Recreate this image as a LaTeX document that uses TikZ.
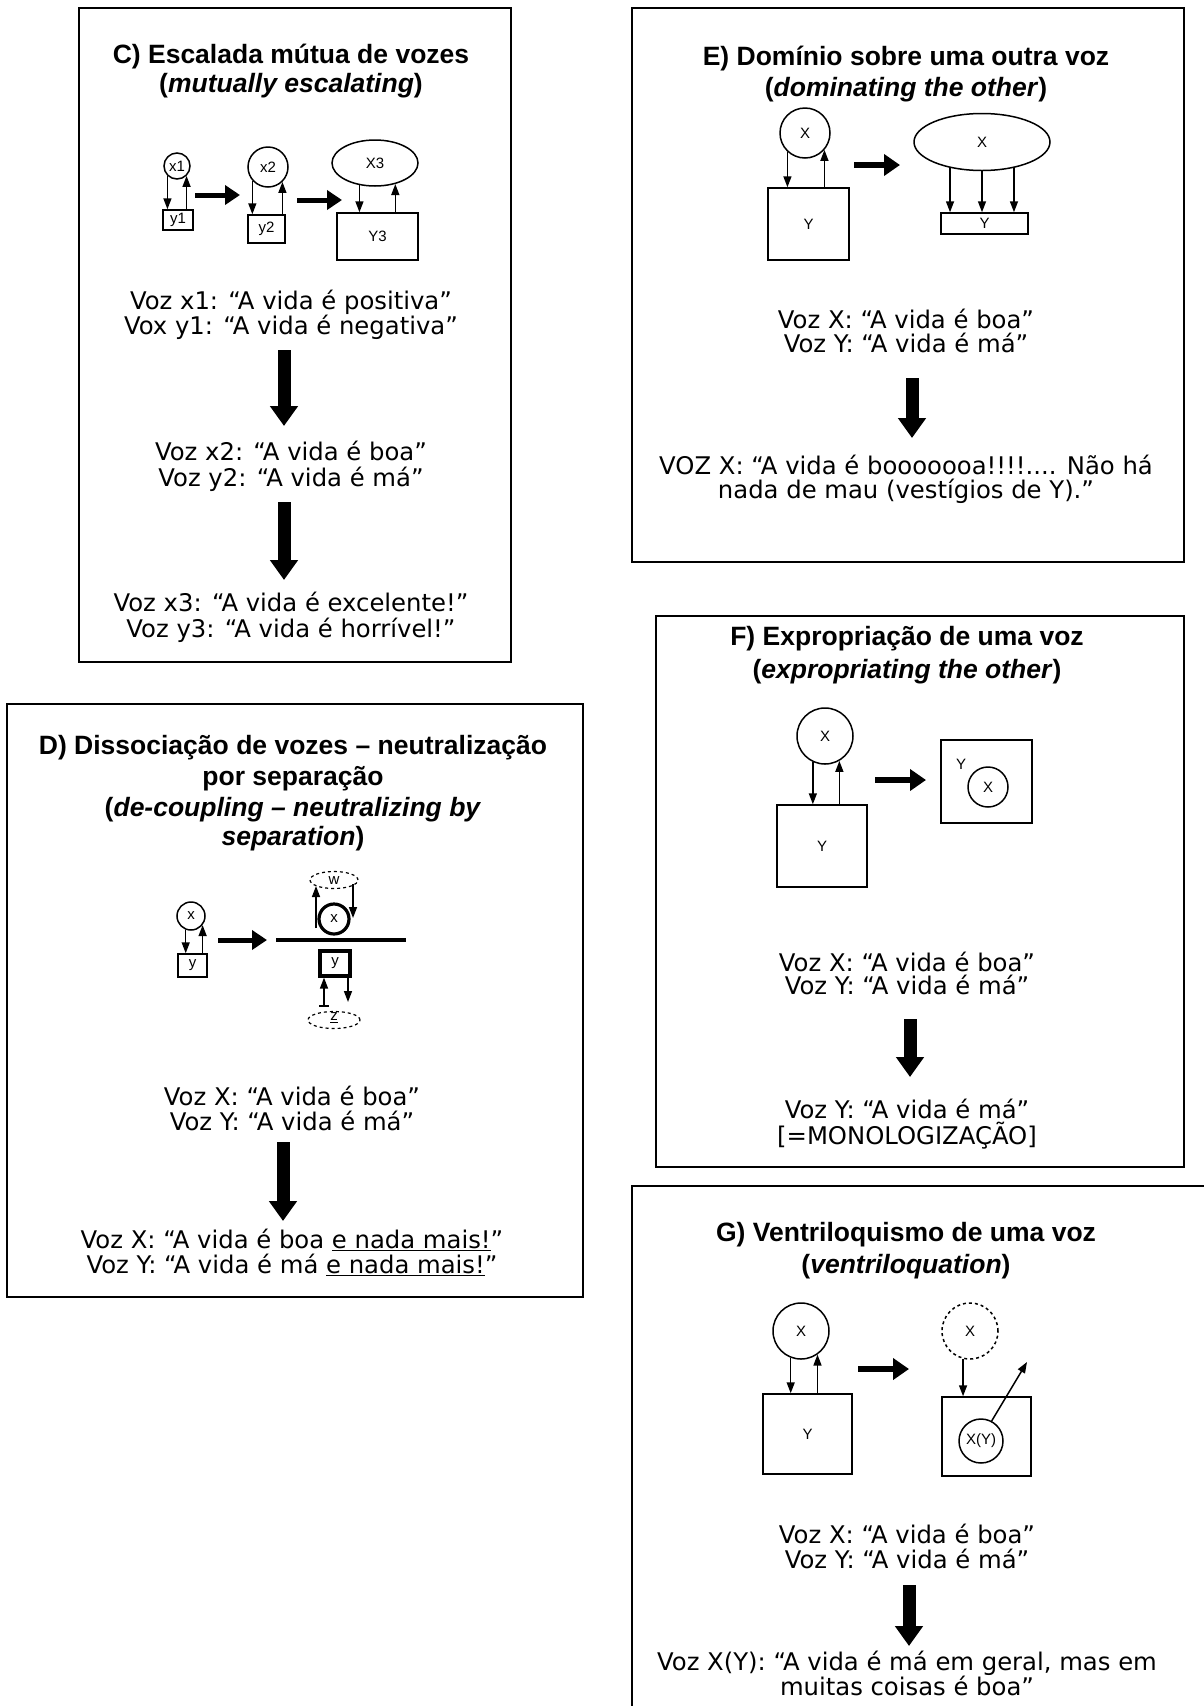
\documentclass[tikz,border=0pt]{standalone}
\usepackage{fontspec}
\setmainfont{DejaVu Sans}
\newfontfamily\titlefont{Liberation Sans}
\usetikzlibrary{arrows.meta,shapes.geometric,calc}
\begin{document}
\begin{tikzpicture}[x=1pt,y=-1pt,
  panel/.style={line width=2pt},
  ttl/.style={font=\titlefont\bfseries\fontsize{26.5}{29}\selectfont, anchor=base, inner sep=0pt},
  txt/.style={font=\fontsize{24.3}{25}\selectfont, anchor=base, inner sep=0pt},
  lab/.style={font=\titlefont\fontsize{15}{16}\selectfont, inner sep=0pt},
  circ/.style={circle, draw, line width=1.5pt, inner sep=0pt, minimum size=#1},
  ell/.style 2 args={ellipse, draw, line width=1.5pt, inner sep=0pt, minimum width=#1, minimum height=#2},
  box/.style 2 args={rectangle, draw, line width=1.5pt, inner sep=0pt, minimum width=#1, minimum height=#2},
  thinarr/.style={line width=1.5pt, -{Triangle[width=8pt,length=11pt]}},
  midarr/.style={line width=5.5pt, -{Triangle[width=21pt,length=16pt]}},
  smallmid/.style={line width=5pt, -{Triangle[width=19pt,length=15pt]}},
  bigarr/.style={line width=13pt, -{Triangle[width=27pt,length=20pt]}},
]
\useasboundingbox[fill=white] (0,0) rectangle (1204,1706);

% ================= Panel C =================
\draw[panel] (79,8) rectangle (511,662);
\node[ttl] (ct1) at (291,63) {C) Escalada mútua de vozes};
\node[ttl] (ct2) at (291,92) {(\textit{mutually escalating})};
\node[circ=26pt, lab] (cx1) at (177,166) {x1};
\node[box={30pt}{20pt}, lab] (cy1) at (178,220) {y1};
\draw[thinarr] (cx1.226) -- (cx1.226 |- cy1.north);
\draw[thinarr] (cx1.314 |- cy1.north) -- (cx1.314);
\coordinate (ca1s) at (195,195); \coordinate (ca1e) at (240,195);
\draw[smallmid] (ca1s) -- (ca1e);
\node[circ=40pt, lab] (cx2) at (268,167) {x2};
\node[box={37pt}{28pt}, lab] (cy2) at (266.5,229) {y2};
\draw[thinarr] (cx2.221) -- (cx2.221 |- cy2.north);
\draw[thinarr] (cx2.314 |- cy2.north) -- (cx2.314);
\coordinate (ca2s) at (297,200); \coordinate (ca2e) at (342,200);
\draw[smallmid] (ca2s) -- (ca2e);
\node[ell={86pt}{46pt}, lab] (cx3) at (375,163) {X3};
\node[box={81pt}{47pt}, lab] (cy3) at (377.5,236.5) {Y3};
\draw[thinarr] (cx3.235) -- (cx3.235 |- cy3.north);
\draw[thinarr] (cx3.314 |- cy3.north) -- (cx3.314);

\node[txt] (cv1) at (291,309) {Voz x1: “A vida é positiva”};
\node[txt] (cv2) at (291,334) {Vox y1: “A vida é negativa”};
\coordinate (cb1s) at (284,350); \coordinate (cb1e) at (284,426);
\draw[bigarr] (cb1s) -- (cb1e);
\node[txt] (cv3) at (291,460) {Voz x2: “A vida é boa”};
\node[txt] (cv4) at (291,486) {Voz y2: “A vida é má”};
\coordinate (cb2s) at (284,502); \coordinate (cb2e) at (284,580);
\draw[bigarr] (cb2s) -- (cb2e);
\node[txt] (cv5) at (291,611) {Voz x3: “A vida é excelente!”};
\node[txt] (cv6) at (291,637) {Voz y3: “A vida é horrível!”};

% ================= Panel E =================
\draw[panel] (632,8) rectangle (1184,562);
\node[ttl] (et1) at (906,65) {E) Domínio sobre uma outra voz};
\node[ttl] (et2) at (906,96) {(\textit{dominating the other})};
\node[circ=50pt, lab] (ex) at (805,133) {X};
\node[box={81pt}{72pt}, lab] (ey) at (808.5,224) {Y};
\draw[thinarr] (ex.227) -- (ex.227 |- ey.north);
\draw[thinarr] (ex.319 |- ey.north) -- (ex.319);
\coordinate (ea1s) at (854,165); \coordinate (ea1e) at (900,165);
\draw[midarr] (ea1s) -- (ea1e);
\node[ell={136pt}{57pt}, lab] (exx) at (982,142) {X};
\node[box={87pt}{21pt}, lab] (eyy) at (984.5,223.5) {Y};
\draw[thinarr] (exx.219) -- (exx.219 |- eyy.north);
\draw[thinarr] (exx.270) -- (exx.270 |- eyy.north);
\draw[thinarr] (exx.321) -- (exx.321 |- eyy.north);

\node[txt] (ev1) at (906,328) {Voz X: “A vida é boa”};
\node[txt] (ev2) at (906,352) {Voz Y: “A vida é má”};
\coordinate (eb1s) at (912,378); \coordinate (eb1e) at (912,438);
\draw[bigarr] (eb1s) -- (eb1e);
\node[txt] (ev3) at (906,474) {VOZ X: “A vida é booooooa!!!!.... Não há};
\node[txt] (ev4) at (906,498) {nada de mau (vestígios de Y).”};

% ================= Panel D =================
\draw[panel] (7,704) rectangle (583,1297);
\node[ttl] (dt1) at (293,754) {D) Dissociação de vozes – neutralização};
\node[ttl] (dt2) at (293,785) {por separação};
\node[ttl] (dt3) at (293,816) {(\textit{de-coupling – neutralizing by}};
\node[ttl] (dt4) at (293,845) {\textit{separation})};
\node[circ=28pt, lab] (dx) at (191,916) {x};
\node[box={29pt}{23pt}, lab] (dy) at (192.5,965.5) {y};
\draw[thinarr] (dx.249) -- (dx.249 |- dy.north);
\draw[thinarr] (dx.322 |- dy.north) -- (dx.322);
\coordinate (da1s) at (218,940); \coordinate (da1e) at (267,940);
\draw[smallmid] (da1s) -- (da1e);
\coordinate (dls) at (276,940); \coordinate (dle) at (406,940);
\draw[line width=4.5pt] (dls) -- (dle);
\node[circ=30pt, lab, line width=3.2pt] (dx2) at (334,919) {x};
\node[box={30pt}{25pt}, lab, line width=3.2pt] (dy2) at (335,963.5) {y};
\node[ell={48pt}{17pt}, dashed, line width=1.2pt] (dw) at (334,880) {};
\node[lab] (dwl) at (334,881) {w};
\coordinate (dwa) at (316,928); \coordinate (dwb) at (316,886);
\draw[thinarr] (dwa) -- (dwb);
\coordinate (dwc) at (353,884); \coordinate (dwd) at (353,918);
\draw[thinarr] (dwc) -- (dwd);
\node[ell={52pt}{17pt}, dashed, line width=1.2pt] (dz) at (334,1020) {};
\node[lab] (dzl) at (334,1018) {\underline{z}};
\coordinate (dza) at (324,1006); \coordinate (dzb) at (348,1002);
\draw[thinarr] (dza) -- (dza |- dy2.south);
\draw[thinarr] (dzb |- dy2.south) -- (dzb);
\draw[line width=1.3pt] ([xshift=-5pt]dza) -- ([xshift=5pt]dza);

\node[txt] (dv1) at (292,1105) {Voz X: “A vida é boa”};
\node[txt] (dv2) at (292,1130) {Voz Y: “A vida é má”};
\coordinate (db1s) at (283,1142); \coordinate (db1e) at (283,1221);
\draw[bigarr] (db1s) -- (db1e);
\node[txt] (dv3) at (292,1248) {Voz X: “A vida é boa \underline{e nada mais!}”};
\node[txt] (dv4) at (292,1273) {Voz Y: “A vida é má \underline{e nada mais!}”};

% ================= Panel F =================
\draw[panel] (656,616) rectangle (1184,1167);
\node[ttl] (ft1) at (907,645) {F) Expropriação de uma voz};
\node[ttl] (ft2) at (907,678) {(\textit{expropriating the other})};
\node[circ=56pt, lab] (fx) at (825,736) {X};
\node[box={90pt}{82pt}, lab] (fy) at (822,846) {Y};
\draw[thinarr] (fx.245) -- (fx.245 |- fy.north);
\draw[thinarr] (fx.300 |- fy.north) -- (fx.300);
\coordinate (fa1s) at (875,780); \coordinate (fa1e) at (926,780);
\draw[midarr] (fa1s) -- (fa1e);
\node[box={91pt}{83pt}] (fyy) at (986.5,781.5) {};
\node[circ=40pt, lab] (fxx) at (988,787) {X};
\node[lab] (fyl) at (961,764) {Y};

\node[txt] (fv1) at (907,971) {Voz X: “A vida é boa”};
\node[txt] (fv2) at (907,994) {Voz Y: “A vida é má”};
\coordinate (fb1s) at (910,1019); \coordinate (fb1e) at (910,1077);
\draw[bigarr] (fb1s) -- (fb1e);
\node[txt] (fv3) at (907,1118) {Voz Y: “A vida é má”};
\node[txt] (fv4) at (907,1144) {[=MONOLOGIZAÇÃO]};

% ================= Panel G =================
\coordinate (gbl) at (632,1706); \coordinate (gtl) at (632,1186); \coordinate (gtr) at (1204,1186);
\draw[panel] (gbl) -- (gtl) -- (gtr);
\node[ttl] (gt1) at (906,1241) {G) Ventriloquismo de uma voz};
\node[ttl] (gt2) at (906,1273) {(\textit{ventriloquation})};
\node[circ=56pt, lab] (gx) at (801,1331) {X};
\node[box={89pt}{80pt}, lab] (gy) at (807.5,1434) {Y};
\draw[thinarr] (gx.249) -- (gx.249 |- gy.north);
\draw[thinarr] (gx.305 |- gy.north) -- (gx.305);
\coordinate (ga1s) at (858,1369); \coordinate (ga1e) at (909,1369);
\draw[midarr] (ga1s) -- (ga1e);
\node[circ=56pt, lab, dashed] (gxd) at (970,1331) {X};
\node[box={89pt}{79pt}] (gyy) at (986.5,1436.5) {};
\node[circ=44pt, lab] (gxy) at (981,1441) {X(Y)};
\draw[thinarr] (gxd.256) -- (gxd.256 |- gyy.north);
\coordinate (gae) at (1027,1362);
\draw[thinarr] (gxy.62) -- (gae);

\node[txt] (gv1) at (907,1543) {Voz X: “A vida é boa”};
\node[txt] (gv2) at (907,1568) {Voz Y: “A vida é má”};
\coordinate (gb1s) at (909,1585); \coordinate (gb1e) at (909,1646);
\draw[bigarr] (gb1s) -- (gb1e);
\node[txt] (gv3) at (907,1670) {Voz X(Y): “A vida é má em geral, mas em};
\node[txt] (gv4) at (907,1695) {muitas coisas é boa”};
\end{tikzpicture}
\end{document}
